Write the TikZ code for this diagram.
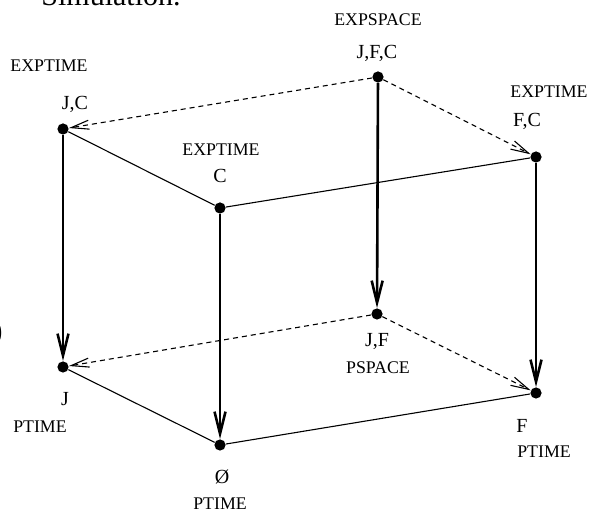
\documentclass[tikz,border=0pt]{standalone}
\usepackage{fontspec}
\setmainfont{Liberation Serif}
\usetikzlibrary{arrows.meta}
\begin{document}
\begin{tikzpicture}[x=0.5pt, y=-0.5pt]
        \tikzstyle{dot} = [circle, fill=black, inner sep=0pt, minimum size=5.6pt]
        \tikzstyle{lbl} = [inner sep=0pt, anchor=base, font=\fontsize{10}{12}\selectfont]
        \tikzstyle{cls} = [inner sep=0pt, anchor=base, font=\fontsize{8.9}{11}\selectfont]
        \tikzstyle{down} = [draw, black, line width=1.3pt, -{Straight Barb[length=11pt, width=5.5pt]}]
        \tikzstyle{weak} = [draw, black, line width=0.55pt, dash pattern=on 2.5pt off 2pt, -{Straight Barb[length=9pt, width=4.5pt]}]
        \tikzstyle{side} = [draw, black, line width=0.55pt]

        \useasboundingbox (0, 0) rectangle (589, 512);
        \clip (0, 0) rectangle (589, 512);

        % text cut off by the frame
        \node[inner sep=0pt, anchor=base, font=\fontsize{15}{18}\selectfont] (title) at (111, 6) {Simulation.};
        \node[inner sep=0pt, anchor=base east, font=\fontsize{15}{18}\selectfont] (paren) at (3, 341) {)};

        % upper face
        \node[dot] (jfc) at (378, 77) {};
        \node[dot] (jc) at (63, 129) {};
        \node[dot] (c) at (220, 208) {};
        \node[dot] (fc) at (536, 157) {};

        % lower face
        \node[dot] (jf) at (377, 314) {};
        \node[dot] (j) at (63, 367) {};
        \node[dot] (empty) at (220, 445) {};
        \node[dot] (f) at (536, 393) {};

        % labels
        \node[cls] (jfc class) at (378, 26) {EXPSPACE};
        \node[lbl] (jfc name) at (377, 59) {J,F,C};
        \node[cls] (jc class) at (49, 72) {EXPTIME};
        \node[lbl] (jc name) at (75, 110) {J,C};
        \node[cls] (c class) at (221, 156) {EXPTIME};
        \node[lbl] (c name) at (220, 183) {C};
        \node[cls] (fc class) at (549, 98) {EXPTIME};
        \node[lbl] (fc name) at (527, 127) {F,C};
        \node[lbl] (jf name) at (377, 347) {J,F};
        \node[cls] (jf class) at (378, 374) {PSPACE};
        \node[lbl] (j name) at (65, 406) {J};
        \node[cls] (j class) at (40, 433) {PTIME};
        \node[lbl] (empty name) at (222, 484) {Ø};
        \node[cls] (empty class) at (220, 510) {PTIME};
        \node[lbl] (f name) at (522, 433) {F};
        \node[cls] (f class) at (544, 458) {PTIME};

        \path[side] (jc) to (c);
        \path[side] (c) to (fc);
        \path[side] (j) to (empty);
        \path[side] (empty) to (f);
        \path[weak] (jfc) to (jc);
        \path[weak] (jfc) to (fc);
        \path[weak] (jf) to (j);
        \path[weak] (jf) to (f);
        \path[down] (jc) to (j);
        \path[down] (c) to (empty);
        \path[down] (jfc) to (jf);
        \path[down] (fc) to (f);
    \end{tikzpicture}
\end{document}
